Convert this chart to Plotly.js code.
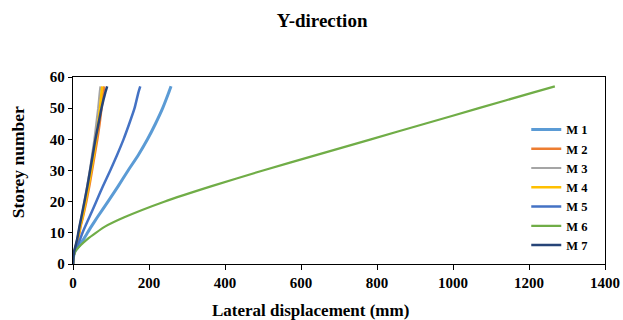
<!DOCTYPE html>
<html>
<head>
<meta charset="utf-8">
<script src="https://cdn.plot.ly/plotly-3.0.1.min.js"></script>
<style>
  html, body { margin: 0; padding: 0; background: #fff; }
  #chart { width: 623px; height: 320px; }
</style>
</head>
<body>
<div id="chart"></div>
<script>
// Storey levels at which lateral displacement is sampled
const storeys = [0, 2, 4, 6, 8, 10, 12, 15, 20, 25, 30, 35, 40, 45, 50, 55, 57];

// Lateral displacement (mm) per model, Y-direction
const m1 = [0, 1, 5, 17, 28, 38, 48, 64, 92, 119, 145, 172, 196, 217, 236, 252, 258];
const m2 = [0, 1, 4, 9, 13, 17, 20, 26, 35, 43, 50, 57, 64, 70, 75, 80, 82];
const m3 = [0, 1, 3, 7, 11, 14, 17, 22, 30, 37, 44, 50, 56, 61, 66, 70, 72];
const m4 = [0, 1, 4, 8, 12, 16, 19, 25, 33, 41, 48, 55, 61, 66, 71, 75, 77];
const m5 = [0, 1, 4, 12, 19, 25, 32, 43, 61, 79, 98, 116, 133, 148, 162, 172, 177];
const m6 = [0, 1, 6, 20, 38, 60, 84, 135, 240, 365, 500, 642, 784, 926, 1068, 1210, 1268];
const m7 = [0, 1, 3, 7, 11, 14, 17, 22, 30, 38, 45, 52, 59, 67, 75, 85, 90];

const names = ['M 1', 'M 2', 'M 3', 'M 4', 'M 5', 'M 6', 'M 7'];
const series = [m1, m2, m3, m4, m5, m6, m7];
const colors = ['#5B9BD5', '#ED7D31', '#A5A5A5', '#FFC000', '#4472C4', '#70AD47', '#264478'];
const widths = [3, 2.5, 2, 2.5, 2.5, 2.2, 2.5];

const serif = '"Liberation Serif", "Times New Roman", serif';

const traces = series.map((xs, i) => ({
  x: xs,
  y: storeys,
  name: names[i],
  type: 'scatter',
  mode: 'lines',
  line: { color: colors[i], width: widths[i], shape: 'spline', smoothing: 0.5 }
}));

const xTicks = [0, 200, 400, 600, 800, 1000, 1200, 1400];
const yTicks = [0, 10, 20, 30, 40, 50, 60];

const boldSerif = (size) => ({ family: serif, size: size, color: '#000', weight: 'bold' });

const layout = {
  width: 623,
  height: 320,
  margin: { l: 73, r: 18, t: 77, b: 56 },
  paper_bgcolor: '#ffffff',
  plot_bgcolor: '#ffffff',
  font: boldSerif(14),
  title: {
    text: 'Y-direction',
    font: boldSerif(19),
    x: 0.517, xanchor: 'center', y: 0.935, yanchor: 'middle'
  },
  xaxis: {
    range: [0, 1400],
    tickvals: xTicks,
    ticktext: xTicks.map(String),
    showgrid: false,
    zeroline: false,
    showline: true,
    linecolor: '#000',
    linewidth: 1.3,
    mirror: true,
    ticks: 'outside',
    ticklen: 5,
    tickcolor: '#000',
    tickfont: boldSerif(15)
  },
  yaxis: {
    range: [0, 60],
    tickvals: yTicks,
    ticktext: yTicks.map(String),
    showgrid: false,
    zeroline: false,
    showline: true,
    linecolor: '#000',
    linewidth: 1.3,
    mirror: true,
    ticks: 'outside',
    ticklen: 4,
    tickcolor: '#000',
    tickfont: boldSerif(15)
  },
  annotations: [
    {
      text: 'Lateral displacement (mm)',
      xref: 'paper', yref: 'paper',
      x: 0.447, y: -0.251, xanchor: 'center', yanchor: 'middle',
      showarrow: false,
      font: boldSerif(17)
    },
    {
      text: 'Storey number',
      xref: 'paper', yref: 'paper',
      x: -0.102, y: 0.543, xanchor: 'center', yanchor: 'middle',
      textangle: -90,
      showarrow: false,
      font: boldSerif(17.5)
    }
  ],
  legend: {
    x: 0.852, xanchor: 'left',
    y: 0.797, yanchor: 'top',
    bgcolor: 'rgba(255,255,255,0)',
    borderwidth: 0,
    font: boldSerif(12.5),
    tracegroupgap: 0
  },
  showlegend: true
};

Plotly.newPlot('chart', traces, layout, { staticPlot: true, displayModeBar: false });
</script>
</body>
</html>
